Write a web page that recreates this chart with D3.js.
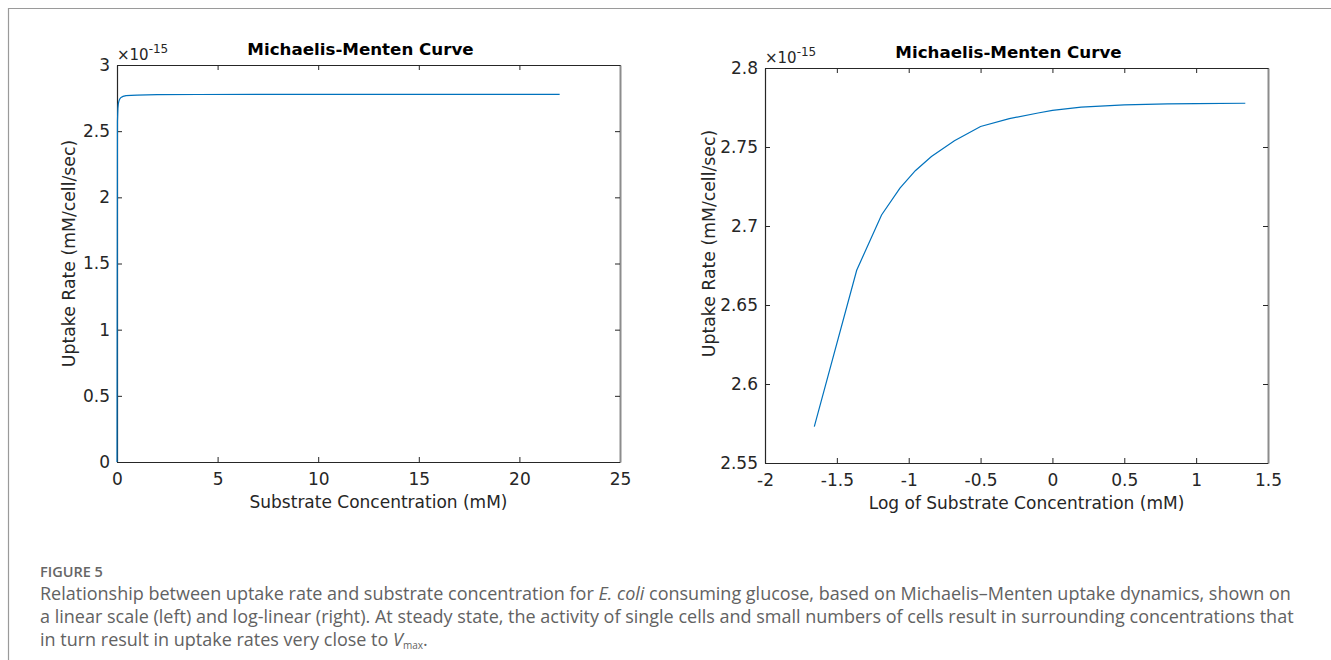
<!DOCTYPE html>
<html>
<head>
<meta charset="utf-8">
<script src="https://cdn.jsdelivr.net/npm/d3@7"></script>
<style>
  body { margin: 0; background: #fff; }
</style>
</head>
<body>
<div id="figure"></div>
<script>
// values (uptake rate in units of 1e-15)
var linearConc = [0, 0.022, 0.044, 0.066, 0.088, 0.11, 0.15, 0.2, 0.3, 0.45, 0.7, 1, 2, 4, 8, 14, 22];
var linearRate = [0, 2.573, 2.672, 2.706, 2.723, 2.734, 2.747, 2.755, 2.763, 2.768, 2.771, 2.773, 2.776, 2.777, 2.778, 2.778, 2.778];

var logConc = [-1.657, -1.362, -1.189, -1.061, -0.954, -0.842, -0.682, -0.5, -0.3, -0.1, 0, 0.2, 0.5, 0.8, 1.0, 1.342];
var logRate = [2.573, 2.672, 2.707, 2.724, 2.735, 2.744, 2.754, 2.763, 2.768, 2.7715, 2.7732, 2.7752, 2.7767, 2.7773, 2.7775, 2.7777];

var linearXTicks = [0, 5, 10, 15, 20, 25];
var linearYTicks = [0, 0.5, 1, 1.5, 2, 2.5, 3];
var logXTicks = [-2, -1.5, -1, -0.5, 0, 0.5, 1, 1.5];
var logYTicks = [2.55, 2.6, 2.65, 2.7, 2.75, 2.8];

var captionLines = [
    "Relationship between uptake rate and substrate concentration for ",
    "a linear scale (left) and log-linear (right). At steady state, the activity of single cells and small numbers of cells result in surrounding concentrations that",
    "in turn result in uptake rates very close to "
];

var width = 1331, height = 660;
var plotFont = "'DejaVu Sans', Verdana, sans-serif";
var capFamily = "'Open Sans', sans-serif";

var svg = d3.select("#figure")
    .append("svg")
    .attr("width", width)
    .attr("height", height);

// page frame (top + left rule)
svg.append("line").attr("x1", 8).attr("y1", 8.5).attr("x2", width).attr("y2", 8.5)
    .attr("stroke", "#9a9a9a").attr("stroke-width", 1.2);
svg.append("line").attr("x1", 8.5).attr("y1", 8).attr("x2", 8.5).attr("y2", height)
    .attr("stroke", "#9a9a9a").attr("stroke-width", 1.2);

/*
 * one MATLAB style panel
 */
function drawPanel(opts) {
    var g = svg.append("g")
        .attr("transform", "translate(" + opts.left + "," + opts.top + ")");
    var w = opts.width, h = opts.height;

    var x = d3.scaleLinear().domain(opts.xDomain).range([0, w]);
    var y = d3.scaleLinear().domain(opts.yDomain).range([h, 0]);

    var fmt = function(d) { return String(+d.toFixed(2)); };

    // bottom + left axes with labels, ticks inward
    var xAxis = d3.axisBottom(x).tickValues(opts.xTicks).tickSizeInner(-5).tickSizeOuter(0).tickPadding(11).tickFormat(fmt);
    var yAxis = d3.axisLeft(y).tickValues(opts.yTicks).tickSizeInner(-5).tickSizeOuter(0).tickPadding(7).tickFormat(fmt);
    // top + right axes, ticks only
    var xTop = d3.axisTop(x).tickValues(opts.xTicks).tickSizeInner(-5).tickSizeOuter(0).tickFormat("");
    var yRight = d3.axisRight(y).tickValues(opts.yTicks).tickSizeInner(-5).tickSizeOuter(0).tickFormat("");

    var gx = g.append("g").attr("transform", "translate(0," + h + ")").call(xAxis);
    var gy = g.append("g").call(yAxis);
    var gt = g.append("g").call(xTop);
    var gr = g.append("g").attr("transform", "translate(" + w + ",0)").call(yRight);

    [gx, gy, gt, gr].forEach(function(a) {
        a.attr("font-family", null).attr("font-size", null);
        a.select(".domain").attr("stroke", "#262626").attr("stroke-width", 1.2);
        a.selectAll(".tick line").attr("stroke", "#262626");
        a.selectAll(".tick text")
            .attr("fill", "#262626")
            .style("font-family", plotFont)
            .style("font-size", "17px");
    });
    gr.select(".domain").attr("stroke", "#8c8c8c").attr("stroke-width", 2);

    // the curve
    var data = opts.xs.map(function(d, i) { return [d, opts.ys[i]]; });
    var line = d3.line()
        .x(function(d) { return x(d[0]); })
        .y(function(d) { return y(d[1]); });
    g.append("path")
        .datum(data)
        .attr("fill", "none")
        .attr("stroke", "#0072BD")
        .attr("stroke-width", 1.2)
        .attr("d", line);

    // exponent
    var ex = g.append("text")
        .attr("x", 0)
        .attr("y", -5)
        .attr("fill", "#262626")
        .style("font-family", plotFont)
        .style("font-size", "15px");
    ex.append("tspan").text("\u00d710");
    ex.append("tspan").attr("dy", -7).style("font-size", "12px").text("-15");

    // title
    g.append("text")
        .attr("x", w / 2 - 8)
        .attr("y", -10)
        .attr("text-anchor", "middle")
        .attr("fill", "#000")
        .style("font-family", plotFont)
        .style("font-size", "16.7px")
        .style("font-weight", "bold")
        .text("Michaelis-Menten Curve");

    // axis labels
    g.append("text")
        .attr("x", w / 2 + 10)
        .attr("y", h + 46)
        .attr("text-anchor", "middle")
        .attr("fill", "#262626")
        .style("font-family", plotFont)
        .style("font-size", "17px")
        .text(opts.xLabel);

    g.append("text")
        .attr("transform", "translate(" + opts.yLabelOffset + "," + (h / 2 + opts.yLabelShift) + ") rotate(-90)")
        .attr("text-anchor", "middle")
        .attr("fill", "#262626")
        .style("font-family", plotFont)
        .style("font-size", "17.3px")
        .text("Uptake Rate (mM/cell/sec)");
}

drawPanel({
    left: 117, top: 65, width: 503, height: 397,
    xDomain: [0, 25], yDomain: [0, 3],
    xTicks: linearXTicks, yTicks: linearYTicks,
    xs: linearConc, ys: linearRate,
    xLabel: "Substrate Concentration (mM)",
    yLabelOffset: -42, yLabelShift: -10
});

drawPanel({
    left: 765, top: 68, width: 503, height: 395,
    xDomain: [-2, 1.5], yDomain: [2.55, 2.8],
    xTicks: logXTicks, yTicks: logYTicks,
    xs: logConc, ys: logRate,
    xLabel: "Log of Substrate Concentration (mM)",
    yLabelOffset: -50, yLabelShift: -22
});

// caption
var cap = svg.append("g").attr("fill", "#626262");
cap.append("text")
    .attr("x", 40).attr("y", 577)
    .style("font-family", capFamily)
    .style("font-size", "14.5px")
    .style("font-weight", "600")
    .attr("fill", "#666")
    .text("FIGURE 5");

var l1 = cap.append("text").attr("x", 40).attr("y", 600)
    .style("font-family", capFamily);
l1.append("tspan").text(captionLines[0]);
l1.append("tspan").style("font-style", "italic").text("E. coli");
l1.append("tspan").text(" consuming glucose, based on Michaelis\u2013Menten uptake dynamics, shown on");

var l2 = cap.append("text").attr("x", 40).attr("y", 623)
    .style("font-family", capFamily)
    .text(captionLines[1]);

var l3 = cap.append("text").attr("x", 40).attr("y", 646)
    .style("font-family", capFamily);
l3.append("tspan").text(captionLines[2]);
l3.append("tspan").style("font-style", "italic").text("V");
l3.append("tspan").attr("dy", 3).style("font-size", "10px").text("max");
l3.append("tspan").attr("dy", -3).text(".");

// size the caption so the first line runs to the same right edge as the original
l1.style("font-size", "16px");
var capSize = 16 * 1252 / l1.node().getComputedTextLength();
[l1, l2, l3].forEach(function(t) { t.style("font-size", capSize + "px"); });
</script>
</body>
</html>
